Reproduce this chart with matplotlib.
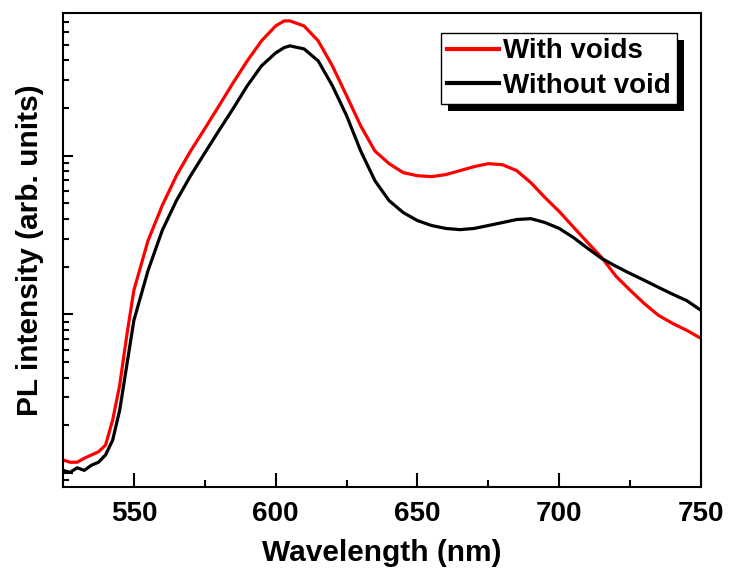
import numpy as np
import matplotlib.pyplot as plt
import matplotlib.patheffects as pe
from matplotlib.ticker import LogLocator, MultipleLocator, NullFormatter

plt.rcParams['font.family'] = ['Liberation Sans', 'DejaVu Sans']
plt.rcParams['font.weight'] = 'bold'

# wavelength (nm) and PL intensity (arb. units, log scale)
wl = [525, 527.5, 530, 532.5, 535, 537.5, 540, 542.5, 545, 547.5, 550, 555, 560, 565, 570,
      575, 580, 585, 590, 595, 600, 603, 605, 610, 615, 620, 625, 630, 635, 640,
      645, 650, 655, 660, 665, 670, 675, 680, 685, 690, 695, 700, 705, 710, 715,
      720, 725, 730, 735, 740, 745, 750]

with_voids = [1.21, 1.17, 1.17, 1.24, 1.30, 1.36, 1.50, 2.15, 3.58, 7.38, 14.2, 29.2, 48.5, 74.8, 107,
              148, 206, 288, 396, 529, 657, 707, 707, 657, 529, 368, 239, 154, 107, 89.1,
              78.2, 74.8, 73.8, 76.0, 80.5, 85.3, 89.1, 87.7, 80.5, 67.6, 54.4, 44.5, 35.5, 28.4, 22.8,
              17.4, 14.2, 11.7, 9.86, 8.77, 7.93, 7.06]

without_void = [1.04, 1.01, 1.08, 1.04, 1.12, 1.17, 1.30, 1.61, 2.49, 4.78, 9.17, 18.9, 33.8, 52.1, 74.8,
                104, 144, 198, 276, 368, 444, 480, 492, 471, 396, 276, 179, 107, 69.6, 52.1,
                43.8, 39.0, 36.3, 34.8, 34.2, 34.8, 36.3, 37.9, 39.6, 40.1, 37.9, 34.8, 30.5, 26.1, 22.5,
                20.1, 18.1, 16.4, 14.8, 13.4, 12.2, 10.6]

fig = plt.figure(figsize=(7.29, 5.69), dpi=100)
ax = fig.add_axes([0.0864, 0.1441, 0.8752, 0.8331])

ax.plot(wl, with_voids, color='#ff0000', lw=2.3, label='With voids')
ax.plot(wl, without_void, color='black', lw=2.3, label='Without void')

ax.set_yscale('log')
ax.set_xlim(525, 750)
ax.set_ylim(0.817, 793)

ax.xaxis.set_major_locator(MultipleLocator(50))
ax.xaxis.set_minor_locator(MultipleLocator(25))
ax.yaxis.set_major_locator(LogLocator(base=10))
ax.yaxis.set_minor_locator(LogLocator(base=10, subs=np.arange(2, 10)))
ax.yaxis.set_major_formatter(NullFormatter())
ax.yaxis.set_minor_formatter(NullFormatter())

ax.tick_params(axis='x', which='major', direction='in', length=10, width=1.5,
               labelsize=20, pad=10)
ax.tick_params(axis='x', which='minor', direction='in', length=5, width=1.5)
ax.tick_params(axis='y', which='major', direction='in', length=7, width=1.5)
ax.tick_params(axis='y', which='minor', direction='in', length=4, width=1.5)
for lab in ax.get_xticklabels():
    lab.set_fontweight('bold')
for sp in ax.spines.values():
    sp.set_linewidth(1.5)

ax.set_xlabel('Wavelength (nm)', fontsize=21.5, fontweight='bold', labelpad=9)
ax.set_ylabel('PL intensity (arb. units)', fontsize=21.5, fontweight='bold', labelpad=10)

leg = ax.legend(loc='upper right', bbox_to_anchor=(0.962, 0.958), fancybox=False,
                framealpha=1, edgecolor='black',
                prop={'size': 20, 'weight': 'bold'}, handlelength=1.9, handletextpad=0.15,
                borderpad=0.2, labelspacing=0.3, borderaxespad=0)
frame = leg.get_frame()
frame.set_linewidth(1.0)
frame.set_path_effects([pe.SimplePatchShadow(offset=(5, -5), shadow_rgbFace='black', alpha=1),
                        pe.Normal()])
for line in leg.get_lines():
    line.set_linewidth(3)

fig.savefig('out.png', dpi=100)
